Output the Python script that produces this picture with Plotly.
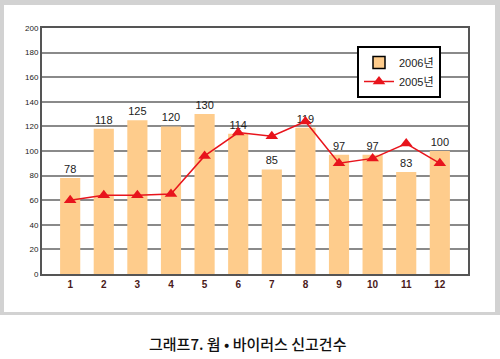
import plotly.graph_objects as go

months = ["1", "2", "3", "4", "5", "6", "7", "8", "9", "10", "11", "12"]
y2006 = [78, 118, 125, 120, 130, 114, 85, 119, 97, 97, 83, 100]
y2005 = [60, 64, 64, 65, 96, 115, 112, 124, 90, 94, 106, 90]
yticks = [0, 20, 40, 60, 80, 100, 120, 140, 160, 180, 200]

L, R, T, B = 42, 468, 28, 274
W, H = 500, 359
pw, ph = R - L, B - T

def px(x):
    return (x - L) / pw

def py(y):
    return (B - y) / ph

BAR = "#FECC8C"
RED = "#E8141C"

fig = go.Figure()
fig.add_trace(go.Bar(
    x=months, y=y2006, name="2006년", showlegend=False,
    marker=dict(color=BAR, line=dict(width=0)),
    width=0.6,
    text=[str(v) for v in y2006], textposition="outside",
    textfont=dict(size=11, color="#222222", family="Arial, Liberation Sans"),
    cliponaxis=False,
))
# legend-only entry with black outline as in the reference legend swatch
fig.add_trace(go.Bar(
    x=[None], y=[None], name="2006년", showlegend=True,
    marker=dict(color=BAR, line=dict(width=1.5, color="black")),
))
fig.add_trace(go.Scatter(
    x=months, y=y2005, name="2005년", mode="lines+markers",
    line=dict(color=RED, width=1.5),
    marker=dict(symbol="triangle-up", size=11, color=RED),
))

fig.update_layout(
    width=W, height=H, autosize=False,
    margin=dict(l=L, r=W - R, t=T, b=H - B),
    paper_bgcolor="white", plot_bgcolor="white",
    barmode="overlay",
    showlegend=True,
    legend=dict(
        x=px(357), y=py(46), xanchor="left", yanchor="top",
        bgcolor="white", bordercolor="black", borderwidth=2,
        font=dict(size=11, color="#222222", family="Arial, Liberation Sans, Noto Sans CJK KR"),
        itemwidth=30, tracegroupgap=2,
    ),
    shapes=[
        dict(type="rect", xref="paper", yref="paper", layer="below",
             x0=px(0), x1=px(500), y0=py(315), y1=py(0),
             fillcolor="#D2D2D2", line=dict(width=0)),
        dict(type="rect", xref="paper", yref="paper", layer="below",
             x0=px(4), x1=px(495), y0=py(312), y1=py(5),
             fillcolor="white", line=dict(width=0)),
    ],
    annotations=[
        dict(text="그래프7. 웜 • 바이러스 신고건수", xref="paper", yref="paper",
             x=px(248), y=py(343), xanchor="center", yanchor="middle",
             showarrow=False,
             font=dict(size=15, color="#111111", family="Noto Sans CJK KR", weight=500)),
    ],
)
fig.update_xaxes(
    type="category", showline=True, linecolor="#555555", linewidth=2, mirror=True,
    ticks="", tickfont=dict(size=10, color="#4A1A1A", family="Arial, Liberation Sans", weight="bold"),
    showgrid=False,
)
fig.update_yaxes(
    range=[0, 200], tickvals=yticks, showline=True, linecolor="#555555", linewidth=2,
    mirror=True, gridcolor="#8A8A8A", gridwidth=2, zeroline=False,
    tickfont=dict(size=8, color="#222222", family="Arial, Liberation Sans"),
    ticks="", ticklen=0,
)
fig.write_html(
    "out.html",
    config={"responsive": False, "displayModeBar": False},
    default_width="500px", default_height="359px",
    post_script="document.body.style.margin='0';document.body.style.overflow='hidden';",
)
